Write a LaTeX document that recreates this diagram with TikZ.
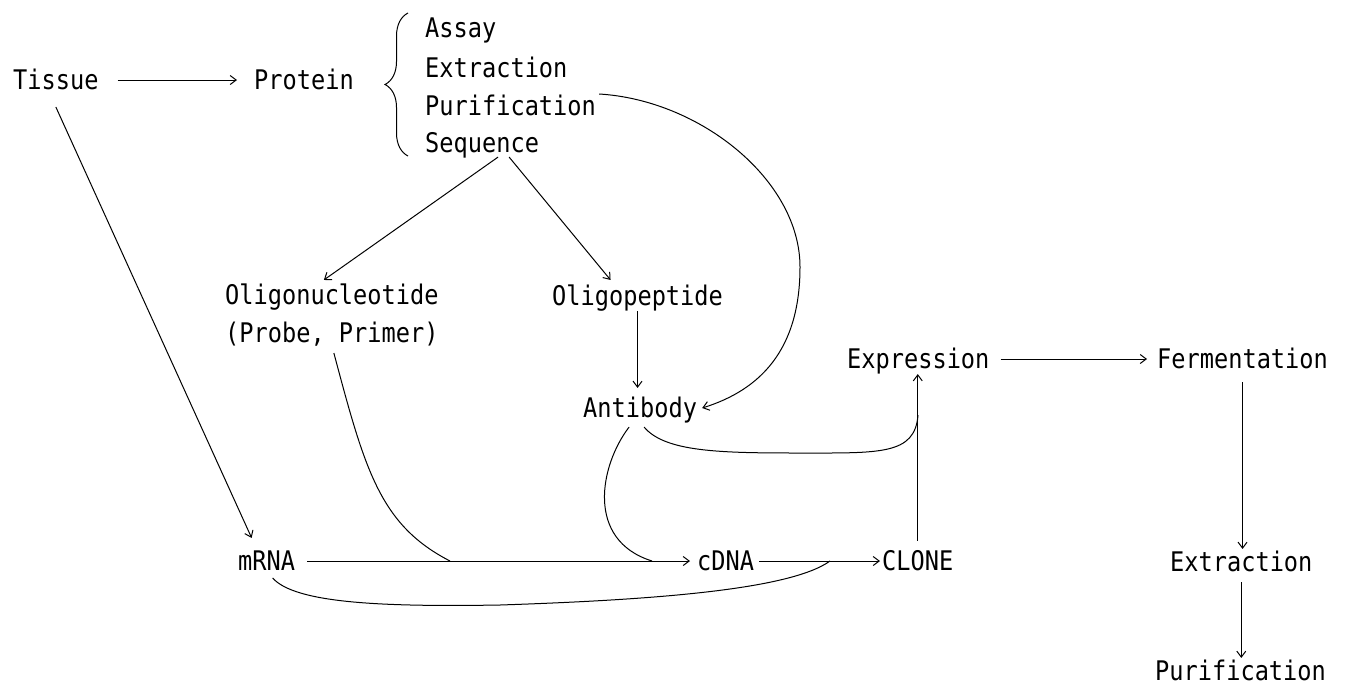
\documentclass[tikz,border=0pt]{standalone}
\usepackage{fontspec}
\newfontfamily\diagfont{DejaVu Sans Mono}[FakeStretch=0.875]
\usetikzlibrary{arrows.meta,decorations.pathreplacing,calc}
\begin{document}
\begin{tikzpicture}[x=1pt,y=-1pt,
  lbl/.style={font=\diagfont\fontsize{27}{32}\selectfont, inner sep=0pt, text height=19.7pt, text depth=0pt, anchor=west},
  ln/.style={line width=1pt},
  arr/.style={ln,-{Straight Barb[length=6pt,width=9pt]}}]
\useasboundingbox (0,0) rectangle (1346,686);

% nodes
\node[lbl] (tissue) at (13,80) {Tissue};
\node[lbl] (protein) at (254,80) {Protein};
\node[lbl] (assay) at (425,28) {Assay};
\node[lbl] (extr1) at (425,68) {Extraction};
\node[lbl] (purif1) at (425,106) {Purification};
\node[lbl] (seq) at (425,143) {Sequence};
\node[lbl] (oligon) at (225,295) {Oligonucleotide};
\node[lbl] (probe) at (225,333) {(Probe, Primer)};
\node[lbl] (oligop) at (552,296) {Oligopeptide};
\node[lbl] (antib) at (583,408) {Antibody};
\node[lbl] (mrna) at (238,561) {mRNA};
\node[lbl] (cdna) at (697,561) {cDNA};
\node[lbl] (clone) at (882,561) {CLONE};
\node[lbl] (expr) at (847,359) {Expression};
\node[lbl] (ferm) at (1157,359) {Fermentation};
\node[lbl] (extr2) at (1170,562) {Extraction};
\node[lbl] (purif2) at (1155,671) {Purification};

% junction points
\coordinate (jprobe) at (450,561);
\coordinate (jab) at (652,561);
\coordinate (jclone) at (830,561);
\coordinate (jexpr) at (918,415);

% brace
\draw[ln,decorate,decoration={brace,amplitude=23pt,aspect=0.5}] (408,156) -- (408,13);

% connectors
\draw[arr,shorten <=19pt,shorten >=17pt] (tissue.east) -- (protein.west);
\draw[arr] ([yshift=-17pt]tissue.south) -- ([xshift=-15pt,yshift=13pt]mrna.north);
\draw[arr] ([xshift=16pt,yshift=-4pt]seq.south) -- ([xshift=-8pt,yshift=5pt]oligon.north);
\draw[arr] ([xshift=27pt,yshift=-4pt]seq.south) -- ([xshift=-27pt,yshift=6pt]oligop.north);
\draw[arr] ([yshift=-5pt]oligop.south) -- ([yshift=10pt]oligop.south |- antib.north);
\draw[arr] ([xshift=3pt,yshift=12pt]purif1.east) .. controls (700,100) and (800,180) .. (800,267)
   .. controls (800,350) and (760,390) .. ([xshift=5pt]antib.east);
\draw[ln] ([xshift=-11pt,yshift=-9pt]antib.south) .. controls (600,465) and (585,540) .. (jab);
\draw[ln] ([xshift=4pt,yshift=-9pt]antib.south) .. controls (665,452) and (720,453) .. (800,453)
   .. controls (880,453) and (915,455) .. (jexpr);
\draw[ln] ([xshift=2pt,yshift=-10pt]probe.south) .. controls (365,470) and (380,525) .. (jprobe);
\draw[ln] ([xshift=6pt,yshift=-7pt]mrna.south) .. controls (295,603) and (380,607) .. (500,605)
   .. controls (650,600) and (790,590) .. (jclone);
\draw[arr,shorten <=12pt,shorten >=7pt] (mrna.east) -- (cdna.west);
\draw[arr,shorten <=5pt,shorten >=2pt] (cdna.east) -- (clone.west);
\draw[arr] ([yshift=10pt]clone.north) -- ([yshift=-5pt]clone.north |- expr.south);
\draw[arr,shorten <=11pt,shorten >=10pt] (expr.east) -- (ferm.west);
\draw[arr] ([yshift=-13pt]ferm.south) -- ([yshift=3pt]ferm.south |- extr2.north);
\draw[arr] ([yshift=-10pt]extr2.south) -- ([yshift=3pt]extr2.south |- purif2.north);
\end{tikzpicture}
\end{document}
